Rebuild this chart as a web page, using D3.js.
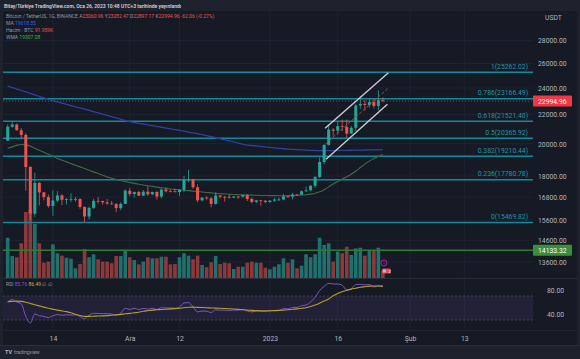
<!DOCTYPE html>
<html><head><meta charset="utf-8">
<script src="https://cdn.jsdelivr.net/npm/d3@7"></script>
<style>
html,body{margin:0;padding:0;background:#1e222d;}
svg{display:block;font-family:Roboto,"Noto Sans",sans-serif;}
</style></head>
<body><svg id="c" width="580" height="359"></svg>
<script>
// ---------- DATA ----------
const startDay = "2022-11-04"; // first daily candle (BINANCE BTCUSDT, 1G)
const open  = [20207,21148,21299,20905,20591,18547,15922,17602,17070,16812,16330,16619,16900,16662,16692,16690,16700,16281,15781,16227,16603,16599,16522,16459,16428,16213,16442,17164,16978,17092,16885,17106,16966,17088,16836,17224,17128,17127,17085,17209,17775,17803,17357,16633,16777,16739,16438,16896,16824,16822,16778,16836,16832,16919,16706,16547,16634,16607,16542,16617,16672,16675,16850,16831,16950,16943,17127,17180,17440,17943,18847,19930,20952,20872,21185,21133,20677,21071,22667,22783,22707,22917,22632,23060.96];
const high  = [21302,21480,21369,21053,20700,18587,18199,17656,17099,16954,17190,17134,16960,16746,17015,16820,16748,16295,16300,16710,16812,16609,16700,16600,16483,16526,17249,17320,17105,17159,17202,17424,17107,17142,17299,17360,17227,17270,17241,18000,18387,17846,17531,16796,16859,16815,17061,16923,16866,16955,16869,16861,16944,16973,16785,16664,16658,16644,16628,16759,16777,16991,16879,17041,16981,17176,17398,17490,18000,19117,19964,21258,21050,21474,21647,21650,21191,22755,23371,23078,23170,23162,23817,23282.47];
const low   = [20180,21075,20880,20383,17166,15588,15754,16361,16631,16229,15815,16527,16380,16410,16549,16560,16180,15476,15630,16170,16458,16400,16400,16401,16001,16106,16428,16855,16787,16866,16879,16867,16907,16678,16733,17060,17091,17071,16871,17080,17660,17275,16527,16573,16667,16256,16398,16735,16559,16731,16760,16715,16791,16592,16465,16488,16333,16470,16499,16543,16605,16646,16753,16679,16908,16911,17101,17160,17315,17892,18715,19889,20551,20611,20835,20407,20665,20861,22422,22292,22515,22466,22300,22897.17];
const close = [21148,21299,20905,20591,18547,15922,17601,17070,16812,16330,16619,16900,16662,16692,16700,16700,16281,15781,16227,16603,16599,16522,16459,16428,16213,16442,17164,16978,17092,16885,17106,16966,17088,16836,17224,17128,17127,17085,17209,17775,17803,17357,16633,16777,16738,16438,16896,16824,16821,16778,16836,16832,16919,16706,16547,16634,16607,16542,16616,16672,16675,16850,16831,16950,16943,17127,17178,17440,17943,18846,19930,20954,20871,21185,21134,20677,21071,22667,22783,22707,22917,22632,23057.02,22994.96];
const volumeK = [504,275,259,434,825,850,675,434,191,204,421,309,279,254,241,121,175,363,259,296,234,204,204,184,275,275,338,259,225,171,204,259,246,246,266,266,171,175,259,309,279,234,279,163,134,196,275,175,191,184,113,141,141,191,204,191,191,129,109,141,171,246,191,234,121,154,296,259,296,504,413,434,204,329,309,391,288,371,379,279,338,338,379,91.959];
const ma200 = [24150,24030,23915,23800,23685,23570,23455,23340,23230,23120,23020,22930,22840,22750,22660,22570,22480,22390,22300,22210,22120,22030,21940,21850,21760,21670,21580,21497,21440,21385,21330,21275,21220,21165,21110,21060,21005,20950,20895,20840,20785,20730,20675,20610,20540,20470,20400,20330,20260,20190,20120,20050,19980,19920,19890,19860,19830,19800,19770,19740,19710,19680,19655,19640,19625,19610,19595,19580,19568,19558,19555,19560,19565,19570,19575,19580,19585,19590,19595,19600,19605,19610,19614,19618.35];
const wma = [19710,19800,19900,19960,19930,19850,19720,19590,19460,19330,19200,19070,18960,18855,18750,18650,18550,18450,18350,18250,18150,18050,17950,17870,17800,17740,17685,17630,17580,17530,17485,17445,17405,17365,17325,17290,17260,17235,17210,17190,17165,17140,17115,17090,17065,17040,17015,16995,16980,16965,16952,16940,16930,16922,16915,16908,16900,16895,16890,16887,16885,16885,16888,16895,16905,16920,16940,16970,17020,17100,17220,17380,17540,17690,17830,17960,18110,18300,18510,18720,18900,19060,19190,19307.08];
const rsi = [60,64,60,57,36,25,40,37,36,34,37,39,38,38.5,38.5,38.5,36,32,38,41,41,40.5,40.5,40,38,41.5,49.5,47.5,49.5,47.5,49.5,48,49.5,47.5,50.5,50,50,49.5,51.5,58.5,59,52,43.5,45,44.5,42.5,47,46.5,46.5,46,46.5,46.5,47.5,45,43.5,45,44.5,44,45,46,46,49,48.5,51,51,54,55,60,68,79,86,91,90,90,88,80,82,89,89.5,88.5,89,85,87,85.76];
const rsiMa = [60.5,61,61.5,61,59.5,57.5,55.5,53.5,51.5,49.5,48,46.5,45,44,42,39.5,37.5,36,36,36.3,36.6,36.9,37.3,38,38.6,39.3,40.3,41,42,43,44.5,45.5,46.5,47,47.5,48,48.5,49,49.5,50.5,51.2,51.5,51,50.8,50.5,50,49.8,49.5,49.2,48.8,48.3,47.7,47,46.5,46,45.6,45.4,45.3,45.4,45.6,46,46.5,47,47.8,48.5,49.5,50.5,52.5,55,58,61.5,65,70.5,74,77,79.5,81.5,83,84.5,85.5,86.5,86.7,86.6,86.49];
const fibRatios = [1,0.786,0.618,0.5,0.382,0.236,0];
const fibPrices = [25262.02,23166.49,21521.40,20365.92,19210.44,17780.78,15469.82];
const priceTicks = [28000,26000,24000,22000,20000,18000,16800,15600,14600,13600];
const rsiTicks = [80,40];
const timeTickDates = ["2022-11-14","2022-12-01","2022-12-12","2023-01-01","2023-01-16","2023-02-01","2023-02-13"];
const timeTickLabels = ["14","Ara","12","2023","16","Şub","13"];
const hLinePrice = 14133.32;
const channelUpper = [["2023-01-13T05:00Z",21040],["2023-01-27T05:00Z",25225]];
const channelLower = [["2023-01-13T10:00Z",19013],["2023-01-27T00:00Z",22753]];

// ---------- LAYOUT ----------
const W=580,H=359;
const L=3, R=533;
const mainTop=11, mainBot=278;
const rsiTop=279, rsiBot=330;
const svg=d3.select("#c");
const parse=d3.utcParse("%Y-%m-%d");
const t0=parse(startDay);
const dates=open.map((_,i)=>d3.utcDay.offset(t0,i));
const x=d3.scaleUtc()
  .domain([new Date(+t0-1.04*864e5), new Date(+t0+116.2*864e5)])
  .range([L,R]);
const y=d3.scaleLog().domain([13600,28000]).range([262,40.7]);
const yVol=d3.scaleLinear().domain([0,1000]).range([mainBot,mainBot-80]);
const yRsi=d3.scaleLinear().domain([40,80]).range([314,290]);

const bg="#161a25", up="#26a69a", dn="#ef5350";
svg.append("rect").attr("width",W).attr("height",H).attr("fill","#1e222d");
svg.append("rect").attr("x",L).attr("y",mainTop).attr("width",W-L-3).attr("height",345-mainTop).attr("fill",bg);

const defs=svg.append("defs");
defs.append("clipPath").attr("id","cm").append("rect").attr("x",L).attr("y",mainTop).attr("width",R-L).attr("height",mainBot-mainTop);
defs.append("clipPath").attr("id","cr").append("rect").attr("x",L).attr("y",rsiTop).attr("width",R-L).attr("height",rsiBot-rsiTop);

// grid
const grid=svg.append("g").attr("stroke","#1f2330").attr("stroke-width",1);
grid.selectAll(".gv").data(timeTickDates).join("line")
  .attr("x1",d=>x(parse(d))).attr("x2",d=>x(parse(d))).attr("y1",mainTop).attr("y2",rsiBot);
grid.selectAll(".gh").data(priceTicks).join("line")
  .attr("x1",L).attr("x2",R).attr("y1",d=>y(d)).attr("y2",d=>y(d));

svg.append("line").attr("x1",L).attr("x2",W-3).attr("y1",rsiTop-0.5).attr("y2",rsiTop-0.5).attr("stroke","#2a2e39");
svg.append("line").attr("x1",L).attr("x2",W-3).attr("y1",rsiBot+0.5).attr("y2",rsiBot+0.5).attr("stroke","#20242f");

const main=svg.append("g").attr("clip-path","url(#cm)");
const idx=d3.range(open.length);

// volume
main.append("g").selectAll("rect").data(idx).join("rect")
  .attr("x",i=>x(dates[i])-1.8).attr("width",3.6)
  .attr("y",i=>yVol(volumeK[i])).attr("height",i=>mainBot-yVol(volumeK[i]))
  .attr("fill",i=>close[i]>=open[i]?"rgba(38,166,154,0.62)":"rgba(239,83,80,0.55)");

// fib lines
main.append("g").selectAll("line").data(fibPrices).join("line")
  .attr("x1",L).attr("x2",R).attr("y1",d=>y(d)).attr("y2",d=>y(d))
  .attr("stroke","#15899a").attr("stroke-width",1.5);
main.append("line").attr("x1",L).attr("x2",R).attr("y1",y(hLinePrice)).attr("y2",y(hLinePrice))
  .attr("stroke","#2f7d32").attr("stroke-width",1.5);

// moving averages
const lineP=arr=>d3.line().x((d,i)=>x(dates[i])).y(d=>y(d)).curve(d3.curveMonotoneX)(arr);
main.append("path").attr("d",lineP(ma200)).attr("fill","none").attr("stroke","#2f3f9f").attr("stroke-width",1.3);
main.append("path").attr("d",lineP(wma)).attr("fill","none").attr("stroke","#3f6b45").attr("stroke-width",1.1);

// candles
const cg=main.append("g");
cg.selectAll("line").data(idx).join("line")
  .attr("x1",i=>x(dates[i])).attr("x2",i=>x(dates[i]))
  .attr("y1",i=>y(high[i])).attr("y2",i=>y(low[i]))
  .attr("stroke",i=>close[i]>=open[i]?up:dn).attr("stroke-width",0.8);
cg.selectAll("rect").data(idx).join("rect")
  .attr("x",i=>x(dates[i])-1.5).attr("width",3)
  .attr("y",i=>y(Math.max(open[i],close[i])))
  .attr("height",i=>Math.max(0.8,Math.abs(y(open[i])-y(close[i]))))
  .attr("fill",i=>close[i]>=open[i]?up:dn);

// price line
const n=close.length-1;
const last=close[n];
main.append("line").attr("x1",L).attr("x2",R).attr("y1",y(last)).attr("y2",y(last))
  .attr("stroke",dn).attr("stroke-width",0.8).attr("stroke-dasharray","1,2").attr("opacity",0.8);

// channel
const pc=p=>[x(d3.isoParse(p[0])),y(p[1])];
const chan=main.append("g").attr("fill","none");
[channelUpper,channelLower].forEach(c=>{
  chan.append("path").attr("d",d3.line()(c.map(pc))).attr("stroke","#c9ccd4").attr("stroke-width",1.4);
});
const mid=[0,1].map(k=>[ new Date((+d3.isoParse(channelUpper[k][0]) + +d3.isoParse(channelLower[k][0]))/2),
  Math.sqrt(channelUpper[k][1]*channelLower[k][1]) ]);
chan.append("path").attr("d",d3.line()(mid.map(m=>[x(m[0]),y(m[1])]))).attr("stroke","#a04b45").attr("stroke-width",1).attr("stroke-dasharray","3,2");

// fib labels
svg.append("g").selectAll("text").data(fibPrices).join("text")
  .attr("x",528).attr("y",(d)=>y(d)-3.5).attr("text-anchor","end")
  .attr("font-size",6.8).attr("fill","#1f97a8")
  .text((d,i)=>`${fibRatios[i]}(${d.toFixed(2)})`);

// events icons
const xl=x(dates[n]);
svg.append("circle").attr("cx",xl+1).attr("cy",263).attr("r",3).attr("fill","none").attr("stroke","#9c27b0").attr("stroke-width",1);
svg.append("text").attr("x",xl+1).attr("y",265).attr("text-anchor","middle").attr("font-size",4).attr("fill","#ba68c8").text("!");
svg.append("rect").attr("x",xl-1).attr("y",268.5).attr("width",9).attr("height",5).attr("rx",1.5).attr("fill","#e04b4b");
svg.append("rect").attr("x",xl).attr("y",269.5).attr("width",3).attr("height",3).attr("fill","#90caf9");
svg.append("text").attr("x",xl+5.5).attr("y",272.5).attr("font-size",4).attr("fill","#fff").text("2");

// ---------- RSI ----------
const rp=svg.append("g").attr("clip-path","url(#cr)");
rp.append("rect").attr("x",L).attr("width",R-L).attr("y",yRsi(70)).attr("height",yRsi(30)-yRsi(70)).attr("fill","rgba(126,87,194,0.12)");
[70,30].forEach(v=>rp.append("line").attr("x1",L).attr("x2",R).attr("y1",yRsi(v)).attr("y2",yRsi(v))
  .attr("stroke","#4a4e5a").attr("stroke-dasharray","2,2").attr("stroke-width",0.7));
const lineR=arr=>d3.line().x((d,i)=>x(dates[i])).y(d=>yRsi(d)).curve(d3.curveMonotoneX)(arr);
rp.append("path").attr("d",lineR(rsi)).attr("fill","none").attr("stroke","#7e57c2").attr("stroke-width",1);
rp.append("path").attr("d",lineR(rsiMa)).attr("fill","none").attr("stroke","#b3a02a").attr("stroke-width",1.1);

// ---------- AXES ----------
const styleAxis=g=>{g.select(".domain").remove();
  g.selectAll("text").attr("font-size",6.8).attr("fill","#b2b5be").attr("font-family","Roboto, sans-serif");};
svg.append("g").attr("transform",`translate(${R},0)`)
  .call(d3.axisRight(y).tickValues(priceTicks).tickSize(0).tickPadding(5).tickFormat(d3.format(".2f"))).call(styleAxis);
svg.append("g").attr("transform",`translate(${R},0)`)
  .call(d3.axisRight(yRsi).tickValues(rsiTicks).tickSize(0).tickPadding(14).tickFormat(d3.format(".2f"))).call(styleAxis);
svg.append("g").attr("transform",`translate(0,${rsiBot})`)
  .call(d3.axisBottom(x).tickValues(timeTickDates.map(parse)).tickSize(0).tickPadding(6)
  .tickFormat((d,i)=>timeTickLabels[i])).call(styleAxis);

svg.append("text").attr("x",545).attr("y",20).attr("font-size",6.8).attr("fill","#b2b5be").text("USDT");

function tag(price,fill,txt){
  const g=svg.append("g");
  g.append("rect").attr("x",R).attr("y",y(price)-5.5).attr("width",39).attr("height",11).attr("rx",1).attr("fill",fill);
  g.append("text").attr("x",R+5).attr("y",y(price)+2.5).attr("font-size",6.8).attr("fill","#fff").text(txt);
}
tag(last,"#f23645",last.toFixed(2));
tag(hLinePrice,"#388e3c",hLinePrice.toFixed(2));

// ---------- LEGENDS ----------
svg.append("text").attr("x",4).attr("y",7.5).attr("font-size",5).attr("font-weight",600).attr("fill","#d1d4dc")
  .text("Bitay/Türkiye TradingView.com, Oca 26, 2023 10:48 UTC+3 tarihinde yayınlandı");
const gray="#9598a1";
const lg=(yy,parts)=>{const t=svg.append("text").attr("x",6).attr("y",yy).attr("font-size",5);
  parts.forEach(p=>t.append("tspan").attr("fill",p[1]).text(p[0]));};
const chg=close[n]-close[n-1];
lg(17.5,[["Bitcoin / TetherUS, 1G, BINANCE  ",gray],["A",gray],[open[n].toFixed(2),dn],[" Y",gray],[high[n].toFixed(2),dn],
  [" D",gray],[low[n].toFixed(2),dn],[" K",gray],[close[n].toFixed(2),dn],[` ${chg.toFixed(2)} (${(chg/close[n-1]*100).toFixed(2)}%)`,dn]]);
lg(24.5,[["MA  ",gray],[ma200[n].toFixed(2),"#2962ff"]]);
lg(31.5,[["Hacim · BTC  ",gray],[volumeK[n].toFixed(3)+"K",dn]]);
lg(38.5,[["WMA  ",gray],[wma[n].toFixed(2),"#4caf50"]]);
lg(286,[["RSI  ",gray],[rsi[n].toFixed(2)+" ","#7e57c2"],[rsiMa[n].toFixed(2)+" ","#c8b42e"],["∅ ∅",gray]]);

// footer
svg.append("line").attr("x1",0).attr("x2",W).attr("y1",345.5).attr("y2",345.5).attr("stroke","#2a2e39");
svg.append("text").attr("x",5).attr("y",354).attr("font-size",5.5).attr("font-weight",700).attr("fill","#b2b5be").text("TV");
svg.append("text").attr("x",14).attr("y",354).attr("font-size",5).attr("fill","#9598a1").text("tradingview");
</script></body></html>
